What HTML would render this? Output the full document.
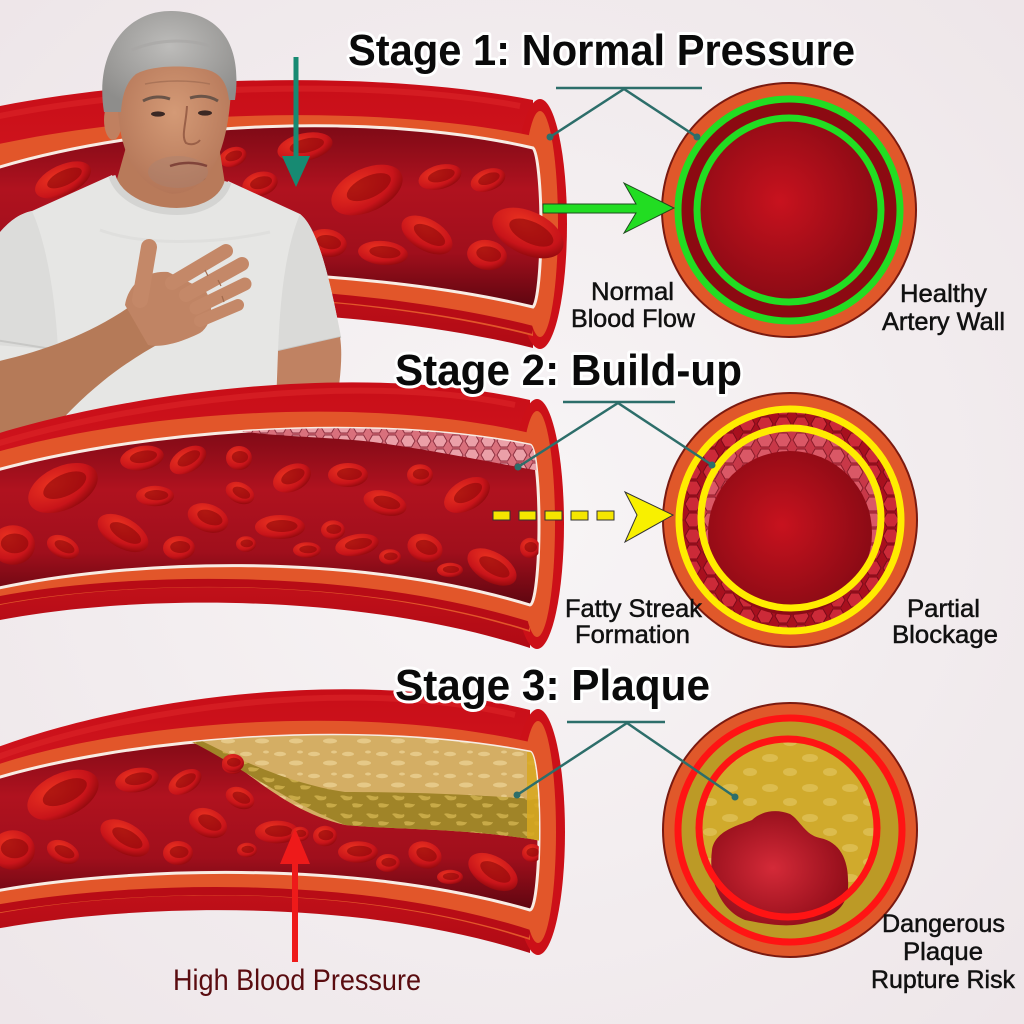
<!DOCTYPE html>
<html>
<head>
<meta charset="utf-8">
<style>
html,body{margin:0;padding:0;background:#f2eced;}
svg{display:block;}
.t{font-family:"Liberation Sans",Arial,sans-serif;font-weight:bold;font-size:44px;fill:#0a0a0a;stroke:#ffffff;stroke-width:6px;paint-order:stroke;stroke-linejoin:round;}
.l{font-family:"Liberation Sans",Arial,sans-serif;font-size:25px;fill:#111;stroke:#111;stroke-width:0.5px;}
</style>
</head>
<body>
<svg width="1024" height="1024" viewBox="0 0 1024 1024" xmlns="http://www.w3.org/2000/svg" xmlns:xlink="http://www.w3.org/1999/xlink">
<defs>
  <radialGradient id="bg" cx="50%" cy="50%" r="75%">
    <stop offset="0" stop-color="#f8f5f6"/>
    <stop offset="1" stop-color="#ede5e8"/>
  </radialGradient>
  <linearGradient id="body" x1="0" y1="0" x2="0" y2="1">
    <stop offset="0" stop-color="#c80e18"/>
    <stop offset="0.5" stop-color="#d41820"/>
    <stop offset="1" stop-color="#b00a14"/>
  </linearGradient>
  <linearGradient id="lum" x1="0" y1="0" x2="0" y2="1">
    <stop offset="0" stop-color="#7e0a16"/>
    <stop offset="0.35" stop-color="#b0121f"/>
    <stop offset="0.7" stop-color="#a00f1c"/>
    <stop offset="1" stop-color="#5e0610"/>
  </linearGradient>
  <radialGradient id="rbcG" cx="38%" cy="32%" r="75%">
    <stop offset="0" stop-color="#ea3220"/>
    <stop offset="0.7" stop-color="#c8141a"/>
    <stop offset="1" stop-color="#8a080c"/>
  </radialGradient>
  <radialGradient id="lumC" cx="45%" cy="45%" r="60%">
    <stop offset="0" stop-color="#c8121e"/>
    <stop offset="1" stop-color="#860a14"/>
  </radialGradient>
  <radialGradient id="lumC3" cx="45%" cy="50%" r="60%">
    <stop offset="0" stop-color="#d42a38"/>
    <stop offset="1" stop-color="#8e0c18"/>
  </radialGradient>
  <radialGradient id="hairG" cx="50%" cy="35%" r="65%">
    <stop offset="0" stop-color="#bdbcba"/>
    <stop offset="1" stop-color="#8e8d8b"/>
  </radialGradient>
  <radialGradient id="faceG" cx="50%" cy="40%" r="60%">
    <stop offset="0" stop-color="#d49a76"/>
    <stop offset="1" stop-color="#b47658"/>
  </radialGradient>
  <g id="rbc">
    <ellipse rx="20" ry="12" fill="url(#rbcG)"/>
    <ellipse cx="1.5" cy="-1" rx="12.5" ry="6" fill="#8a0709" opacity="0.6"/>
  </g>
  <pattern id="cells" width="16" height="14" patternUnits="userSpaceOnUse">
    <rect width="16" height="14" fill="#d9707c"/>
    <path d="M1 7 L4.5 1 L11.5 1 L15 7 L11.5 13 L4.5 13 Z" fill="#eba0a8" stroke="#8e3040" stroke-width="1"/>
  </pattern>
  <pattern id="cellsD" width="18" height="16" patternUnits="userSpaceOnUse">
    <rect width="18" height="16" fill="#a8101e"/>
    <path d="M1 8 L5 1 L13 1 L17 8 L13 15 L5 15 Z" fill="#cc2a38" stroke="#7a0a18" stroke-width="1"/>
  </pattern>
  <pattern id="cellsP" width="18" height="16" patternUnits="userSpaceOnUse">
    <rect width="18" height="16" fill="#c83848"/>
    <path d="M1 8 L5 1 L13 1 L17 8 L13 15 L5 15 Z" fill="#da5866" stroke="#8a1c2a" stroke-width="1"/>
  </pattern>
  <pattern id="spL" width="34" height="22" patternUnits="userSpaceOnUse">
    <rect width="34" height="22" fill="#d4ae64"/>
    <ellipse cx="8" cy="6" rx="6" ry="2.2" fill="#e6c988"/>
    <ellipse cx="24" cy="15" rx="7" ry="2.5" fill="#e6c988"/>
    <ellipse cx="28" cy="4" rx="3" ry="1.5" fill="#e6c988"/>
  </pattern>
  <pattern id="spD" width="26" height="18" patternUnits="userSpaceOnUse">
    <rect width="26" height="18" fill="#a08428"/>
    <path d="M2 4 C6 2 10 6 14 4 C16 8 10 9 6 8 Z" fill="#c8aa48"/>
    <path d="M14 12 C18 10 22 13 25 12 C24 16 18 16 15 15 Z" fill="#c8aa48"/>
  </pattern>
  <pattern id="spG" width="40" height="30" patternUnits="userSpaceOnUse">
    <rect width="40" height="30" fill="#d0aa2c"/>
    <ellipse cx="10" cy="8" rx="8" ry="4" fill="#dcbc4e"/>
    <ellipse cx="30" cy="22" rx="7" ry="4" fill="#dcbc4e"/>
  </pattern>

  <path id="lum1" d="M-10 170 C 150 120 380 112 533 148 A 9 80 0 0 1 533 307 C 380 270 150 262 -10 285 Z"/>
  <path id="lum2" d="M-10 472 C 120 435 350 410 530 445 A 9 80 0 0 1 530 605 C 350 550 120 560 -10 590 Z"/>
  <path id="lum3" d="M-10 780 C 120 740 350 718 530 752 A 9 79 0 0 1 530 910 C 350 858 120 868 -10 892 Z"/>
  <clipPath id="c1"><use xlink:href="#lum1"/></clipPath>
  <clipPath id="c2"><use xlink:href="#lum2"/></clipPath>
  <clipPath id="c3"><use xlink:href="#lum3"/></clipPath>
</defs>

<rect width="1024" height="1024" fill="url(#bg)"/>

<!-- ============ STAGE 1 VESSEL ============ -->
<path d="M-10 108 C 150 75 380 70 533 100 L 533 348 C 380 310 150 300 -10 325 Z" fill="url(#body)"/>
<path d="M-10 118 C 150 84 380 79 520 106" fill="none" stroke="#dc2428" stroke-width="6" opacity="0.6"/>
<ellipse cx="540" cy="224" rx="27" ry="125" fill="#cc1018"/>
<path d="M-10 146 C 150 110 380 104 533 136 L 533 336 C 380 296 150 285 -10 305 Z" fill="#e2562a"/>
<path d="M-10 300 C 150 280 380 291 533 330" fill="none" stroke="#b80c16" stroke-width="8"/>
<ellipse cx="540" cy="224" rx="18" ry="113" fill="#e2562a"/>
<use xlink:href="#lum1" fill="url(#lum)" stroke="#f8ece4" stroke-width="3"/>
<g clip-path="url(#c1)">
  <use xlink:href="#rbc" transform="translate(63 180) rotate(-25) scale(1.5 1.25)"/>
  <use xlink:href="#rbc" transform="translate(233 157) rotate(-20) scale(0.7 0.8)"/>
  <use xlink:href="#rbc" transform="translate(260 184) rotate(-15) scale(0.9 1)"/>
  <use xlink:href="#rbc" transform="translate(305 147) rotate(-12) scale(1.4 1.15)"/>
  <use xlink:href="#rbc" transform="translate(367 190) rotate(-25) scale(1.9 1.8)"/>
  <use xlink:href="#rbc" transform="translate(440 177) rotate(-15) scale(1.1 1)"/>
  <use xlink:href="#rbc" transform="translate(488 180) rotate(-20) scale(0.9 0.9)"/>
  <use xlink:href="#rbc" transform="translate(427 235) rotate(30) scale(1.4 1.3)"/>
  <use xlink:href="#rbc" transform="translate(383 253) rotate(5) scale(1.25 1)"/>
  <use xlink:href="#rbc" transform="translate(487 255) rotate(10) scale(1 1.25)"/>
  <use xlink:href="#rbc" transform="translate(327 243) rotate(10) scale(1 1.15)"/>
</g>
<use xlink:href="#rbc" transform="translate(528 233) rotate(25) scale(1.9 1.8)"/>

<!-- teal arrow -->
<line x1="296" y1="57" x2="296" y2="160" stroke="#178a72" stroke-width="5"/>
<polygon points="282,156 310,156 296,187" fill="#178a72"/>

<!-- ============ MAN ============ -->
<g>
  <path d="M128 140 L 218 140 L 226 190 C 200 225 140 225 114 190 Z" fill="#b87a5a"/>
  <path d="M150 175 C 165 190 185 192 205 178" fill="none" stroke="#a06648" stroke-width="2"/>
  <path d="M112 175 C 125 215 215 225 228 181 L 300 214 C 318 228 330 280 341 337 L 278 351 L 274 430 L -5 440 L -5 238 C 8 222 18 214 32 211 Z" fill="#e6e6e4"/>
  <path d="M32 211 C 45 240 55 290 58 350 L -5 345 L -5 238 C 8 222 18 214 32 211 Z" fill="#dcdcda"/>
  <path d="M300 214 C 318 228 330 280 341 337 L 278 351 C 280 300 285 250 300 214 Z" fill="#dadad8"/>
  <path d="M-5 340 L 58 350" stroke="#c8c8c6" stroke-width="2"/>
  <path d="M278 351 L 341 337" stroke="#c8c8c6" stroke-width="2"/>
  <path d="M112 176 C 125 218 215 226 228 182" fill="none" stroke="#d4d4d2" stroke-width="7"/>
  <path d="M100 230 C 140 245 210 245 270 232" fill="none" stroke="#dadad8" stroke-width="3" opacity="0.6"/>
  <path d="M278 351 L 340 337 C 343 355 340 380 337 400 L 276 405 Z" fill="#c08262"/>
  <ellipse cx="113" cy="120" rx="9" ry="20" fill="#c08060"/>
  <path d="M118 85 C 115 140 130 185 172 194 C 210 193 228 150 231 90 C 231 50 119 48 118 85 Z" fill="url(#faceG)"/>
  <ellipse cx="178" cy="172" rx="30" ry="16" fill="#a88272" opacity="0.4"/>
  <path d="M104 112 C 94 50 128 10 172 11 C 218 12 243 42 235 100 L 229 100 C 227 82 220 72 204 69 C 184 65 152 65 136 74 C 126 82 122 96 121 112 Z" fill="url(#hairG)"/>
  <path d="M132 50 C 155 40 185 38 210 46" fill="none" stroke="#a6a5a3" stroke-width="3" opacity="0.6"/>
  <path d="M143 101 C 152 96 162 96 170 99" stroke="#6a5448" stroke-width="3" fill="none"/>
  <path d="M190 98 C 200 95 210 96 218 101" stroke="#6a5448" stroke-width="3" fill="none"/>
  <ellipse cx="158" cy="114" rx="7" ry="2.6" fill="#3a2824"/>
  <ellipse cx="205" cy="113" rx="7" ry="2.6" fill="#3a2824"/>
  <path d="M187 106 C 186 125 181 136 186 143 C 192 146 198 143 200 140" stroke="#9a6048" stroke-width="2" fill="none"/>
  <path d="M170 166 C 182 162 195 162 207 166" stroke="#80443a" stroke-width="2.5" fill="none"/>
  <path d="M145 84 C 165 80 190 80 210 84" stroke="#aa7458" stroke-width="1.5" fill="none"/>
  <path d="M-5 362 C 40 352 90 335 132 305 L 162 342 C 120 365 80 395 40 445 L -5 445 Z" fill="#b57a58"/>
  <path d="M125 305 C 128 285 145 270 168 272 L 205 290 C 215 305 212 325 200 333 C 180 343 160 348 148 345 Z" fill="#c08464"/>
  <g stroke="#c48868" stroke-linecap="round" fill="none">
    <line x1="140" y1="300" x2="149" y2="247" stroke-width="16"/>
    <line x1="172" y1="283" x2="226" y2="251" stroke-width="14"/>
    <line x1="186" y1="295" x2="242" y2="264" stroke-width="14"/>
    <line x1="196" y1="308" x2="245" y2="284" stroke-width="13"/>
    <line x1="200" y1="321" x2="238" y2="305" stroke-width="12"/>
  </g>
  <g stroke="#a06a4c" stroke-width="1.2" fill="none">
    <path d="M205 270 L 208 276"/><path d="M218 280 L 221 286"/><path d="M222 296 L 224 302"/>
  </g>
</g>

<!-- ============ STAGE 2 VESSEL ============ -->
<path d="M-10 436 C 120 395 350 360 530 400 L 530 648 C 350 590 120 595 -10 622 Z" fill="url(#body)"/>
<path d="M-10 446 C 120 405 350 370 515 405" fill="none" stroke="#dc2428" stroke-width="6" opacity="0.6"/>
<ellipse cx="537" cy="524" rx="27" ry="125" fill="#cc1018"/>
<path d="M-10 454 C 120 416 350 392 530 433 L 530 632 C 350 574 120 580 -10 607 Z" fill="#e2562a"/>
<path d="M-10 602 C 120 576 350 570 530 626" fill="none" stroke="#b80c16" stroke-width="8"/>
<ellipse cx="537" cy="524" rx="18" ry="113" fill="#e2562a"/>
<use xlink:href="#lum2" fill="url(#lum)" stroke="#f8ece4" stroke-width="3"/>
<g clip-path="url(#c2)">
  <path d="M205 425 C 260 438 330 436 380 443 C 430 450 480 460 545 472 L 545 415 L 205 415 Z" fill="url(#cells)"/>
  <use xlink:href="#rbc" transform="translate(63 488) rotate(-25) scale(1.85 1.8)"/>
  <use xlink:href="#rbc" transform="translate(142 458) rotate(-10) scale(1.1 1)"/>
  <use xlink:href="#rbc" transform="translate(188 460) rotate(-30) scale(1 1)"/>
  <use xlink:href="#rbc" transform="translate(239 458) rotate(0) scale(0.65 1)"/>
  <use xlink:href="#rbc" transform="translate(155 496) rotate(0) scale(0.95 0.85)"/>
  <use xlink:href="#rbc" transform="translate(240 493) rotate(25) scale(0.75 0.85)"/>
  <use xlink:href="#rbc" transform="translate(292 478) rotate(-25) scale(1 1.1)"/>
  <use xlink:href="#rbc" transform="translate(123 533) rotate(30) scale(1.4 1.25)"/>
  <use xlink:href="#rbc" transform="translate(208 518) rotate(20) scale(1.05 1.15)"/>
  <use xlink:href="#rbc" transform="translate(280 527) rotate(0) scale(1.25 1)"/>
  <use xlink:href="#rbc" transform="translate(63 547) rotate(25) scale(0.85 0.9)"/>
  <use xlink:href="#rbc" transform="translate(179 548) rotate(0) scale(0.8 1)"/>
  <use xlink:href="#rbc" transform="translate(246 544) rotate(0) scale(0.5 0.65)"/>
  <use xlink:href="#rbc" transform="translate(307 550) rotate(0) scale(0.7 0.65)"/>
  <use xlink:href="#rbc" transform="translate(13 545) rotate(0) scale(1.1 1.65)"/>
  <use xlink:href="#rbc" transform="translate(348 475) rotate(0) scale(1 1)"/>
  <use xlink:href="#rbc" transform="translate(420 475) rotate(0) scale(0.65 0.9)"/>
  <use xlink:href="#rbc" transform="translate(385 503) rotate(15) scale(1.1 1)"/>
  <use xlink:href="#rbc" transform="translate(467 495) rotate(-30) scale(1.25 1.25)"/>
  <use xlink:href="#rbc" transform="translate(357 545) rotate(-10) scale(1.1 0.9)"/>
  <use xlink:href="#rbc" transform="translate(390 557) rotate(0) scale(0.55 0.65)"/>
  <use xlink:href="#rbc" transform="translate(425 548) rotate(20) scale(0.9 1.15)"/>
  <use xlink:href="#rbc" transform="translate(450 570) rotate(0) scale(0.65 0.6)"/>
  <use xlink:href="#rbc" transform="translate(492 567) rotate(30) scale(1.35 1.25)"/>
  <use xlink:href="#rbc" transform="translate(530 548) rotate(0) scale(0.5 0.85)"/>
  <use xlink:href="#rbc" transform="translate(333 530) rotate(0) scale(0.6 0.8)"/>
</g>

<!-- ============ STAGE 3 VESSEL ============ -->
<path d="M-10 750 C 120 700 350 665 530 710 L 530 953 C 350 895 120 905 -10 930 Z" fill="url(#body)"/>
<path d="M-10 760 C 120 710 350 675 515 715" fill="none" stroke="#dc2428" stroke-width="6" opacity="0.6"/>
<ellipse cx="538" cy="832" rx="27" ry="123" fill="#cc1018"/>
<path d="M-10 767 C 120 723 350 702 530 742 L 530 940 C 350 880 120 890 -10 915 Z" fill="#e2562a"/>
<path d="M-10 910 C 120 886 350 876 530 934" fill="none" stroke="#b80c16" stroke-width="8"/>
<ellipse cx="538" cy="832" rx="18" ry="111" fill="#e2562a"/>
<use xlink:href="#lum3" fill="url(#lum)" stroke="#f8ece4" stroke-width="3"/>
<g clip-path="url(#c3)">
  <use xlink:href="#rbc" transform="translate(63 795) rotate(-25) scale(1.9 1.8)"/>
  <use xlink:href="#rbc" transform="translate(137 780) rotate(-10) scale(1.1 1)"/>
  <use xlink:href="#rbc" transform="translate(185 782) rotate(-30) scale(0.9 0.9)"/>
  <use xlink:href="#rbc" transform="translate(233 765) rotate(0) scale(0.55 0.75)"/>
  <use xlink:href="#rbc" transform="translate(240 798) rotate(25) scale(0.75 0.85)"/>
  <use xlink:href="#rbc" transform="translate(125 838) rotate(30) scale(1.35 1.25)"/>
  <use xlink:href="#rbc" transform="translate(208 823) rotate(25) scale(1 1.15)"/>
  <use xlink:href="#rbc" transform="translate(277 832) rotate(0) scale(1.1 0.95)"/>
  <use xlink:href="#rbc" transform="translate(63 852) rotate(25) scale(0.85 0.9)"/>
  <use xlink:href="#rbc" transform="translate(178 853) rotate(0) scale(0.75 1)"/>
  <use xlink:href="#rbc" transform="translate(247 850) rotate(0) scale(0.5 0.6)"/>
  <use xlink:href="#rbc" transform="translate(13 850) rotate(0) scale(1.1 1.65)"/>
  <use xlink:href="#rbc" transform="translate(300 834) rotate(0) scale(0.45 0.6)"/>
  <use xlink:href="#rbc" transform="translate(325 836) rotate(0) scale(0.6 0.85)"/>
  <use xlink:href="#rbc" transform="translate(358 852) rotate(0) scale(1 0.9)"/>
  <use xlink:href="#rbc" transform="translate(388 863) rotate(0) scale(0.6 0.75)"/>
  <use xlink:href="#rbc" transform="translate(425 855) rotate(20) scale(0.85 1.1)"/>
  <use xlink:href="#rbc" transform="translate(450 877) rotate(0) scale(0.65 0.6)"/>
  <use xlink:href="#rbc" transform="translate(493 872) rotate(30) scale(1.35 1.3)"/>
  <use xlink:href="#rbc" transform="translate(532 853) rotate(0) scale(0.5 0.75)"/>
  <path d="M175 730 C 200 745 222 757 242 770 C 272 792 302 815 345 825 C 400 830 470 828 548 842 L 548 730 Z" fill="url(#spL)"/>
  <path d="M178 736 C 220 752 272 795 345 825 C 400 830 470 828 548 842 L 548 800 C 470 794 400 792 345 792 C 290 784 240 760 200 740 Z" fill="url(#spD)"/>
  <path d="M527 752 L 545 752 L 545 842 L 527 838 Z" fill="#d8a820" opacity="0.85"/>
</g>
<use xlink:href="#rbc" transform="translate(233 763) rotate(0) scale(0.55 0.75)"/>

<!-- red arrow -->
<line x1="295" y1="962" x2="295" y2="858" stroke="#ee1a1a" stroke-width="6"/>
<polygon points="280,864 310,864 295,828" fill="#ee1a1a"/>
<text x="173" y="990" textLength="248" lengthAdjust="spacingAndGlyphs" style="font-family:'Liberation Sans',Arial,sans-serif;font-size:30px;fill:#5a0c10;">High Blood Pressure</text>

<!-- ============ CIRCLE 1 ============ -->
<circle cx="789" cy="210" r="127" fill="#e0582a" stroke="#7a1a10" stroke-width="2"/>
<circle cx="789" cy="210" r="108" fill="#8c0a12"/>
<circle cx="789" cy="210" r="90" fill="url(#lumC)"/>
<circle cx="789" cy="210" r="111" fill="none" stroke="#22dd22" stroke-width="7"/>
<circle cx="789" cy="210" r="92" fill="none" stroke="#22dd22" stroke-width="7"/>
<path d="M543 204 L636 204 L624 183 L674 208 L624 233 L636 213 L543 213 Z" fill="#22dd22" stroke="#1e4a1e" stroke-width="1"/>

<!-- ============ CIRCLE 2 ============ -->
<circle cx="790" cy="520" r="127" fill="#e0582a" stroke="#7a1a10" stroke-width="2"/>
<circle cx="790" cy="520" r="108" fill="url(#cellsD)"/>
<circle cx="791" cy="518" r="90" fill="url(#cellsP)"/>
<circle cx="790" cy="533" r="82" fill="url(#lumC)"/>
<circle cx="790" cy="520" r="111" fill="none" stroke="#ffec00" stroke-width="7"/>
<circle cx="791" cy="518" r="90" fill="none" stroke="#ffec00" stroke-width="7"/>
<g fill="#f5e600" stroke="#333" stroke-width="1">
  <rect x="493" y="511" width="17" height="9"/>
  <rect x="519" y="511" width="17" height="9"/>
  <rect x="545" y="511" width="17" height="9"/>
  <rect x="571" y="511" width="17" height="9"/>
  <rect x="597" y="511" width="17" height="9"/>
  <path d="M625 492 L673 515 L625 542 L637 515 Z" fill="#f8f000"/>
</g>

<!-- ============ CIRCLE 3 ============ -->
<circle cx="790" cy="830" r="127" fill="#e0582a" stroke="#7a1a10" stroke-width="2"/>
<circle cx="790" cy="830" r="110" fill="#bc9a26"/>
<circle cx="788" cy="828" r="92" fill="url(#spG)"/>
<path d="M712 850 C 715 830 740 825 752 820 C 760 812 775 808 790 814 C 800 820 805 835 820 838 C 840 842 848 860 848 880 C 850 905 835 918 810 922 C 790 928 770 925 745 920 C 720 910 708 880 712 850 Z" fill="url(#lumC3)"/>
<circle cx="790" cy="830" r="112" fill="none" stroke="#ff1414" stroke-width="7"/>
<circle cx="788" cy="828" r="89" fill="none" stroke="#ff1414" stroke-width="7"/>

<!-- ============ BRACKETS ============ -->
<g stroke="#2d6e6a" stroke-width="2.5" fill="none">
  <path d="M556 88 L702 88"/>
  <path d="M550 137 L624 89 L697 137"/>
  <path d="M563 402 L675 402"/>
  <path d="M518 467 L618 403 L712 465"/>
  <path d="M567 722 L665 722"/>
  <path d="M517 795 L627 723 L735 797"/>
</g>
<g fill="#2d6e6a">
  <circle cx="550" cy="137" r="3.5"/><circle cx="697" cy="137" r="3.5"/>
  <circle cx="518" cy="467" r="3.5"/><circle cx="712" cy="465" r="3.5"/>
  <circle cx="517" cy="795" r="3.5"/><circle cx="735" cy="797" r="3.5"/>
</g>

<!-- ============ TITLES ============ -->
<text class="t" x="348" y="65" textLength="507" lengthAdjust="spacingAndGlyphs">Stage 1: Normal Pressure</text>
<text class="t" x="395" y="385" textLength="347" lengthAdjust="spacingAndGlyphs">Stage 2: Build-up</text>
<text class="t" x="395" y="700" textLength="315" lengthAdjust="spacingAndGlyphs">Stage 3: Plaque</text>

<!-- ============ LABELS ============ -->
<text class="l" x="591" y="300" textLength="83" lengthAdjust="spacingAndGlyphs">Normal</text>
<text class="l" x="571" y="327" textLength="124" lengthAdjust="spacingAndGlyphs">Blood Flow</text>
<text class="l" x="900" y="302" textLength="87" lengthAdjust="spacingAndGlyphs">Healthy</text>
<text class="l" x="882" y="330" textLength="123" lengthAdjust="spacingAndGlyphs">Artery Wall</text>
<text class="l" x="565" y="617" textLength="137" lengthAdjust="spacingAndGlyphs">Fatty Streak</text>
<text class="l" x="575" y="643" textLength="115" lengthAdjust="spacingAndGlyphs">Formation</text>
<text class="l" x="907" y="617" textLength="73" lengthAdjust="spacingAndGlyphs">Partial</text>
<text class="l" x="892" y="643" textLength="106" lengthAdjust="spacingAndGlyphs">Blockage</text>
<text class="l" x="882" y="932" textLength="123" lengthAdjust="spacingAndGlyphs">Dangerous</text>
<text class="l" x="903" y="960" textLength="80" lengthAdjust="spacingAndGlyphs">Plaque</text>
<text class="l" x="871" y="988" textLength="144" lengthAdjust="spacingAndGlyphs">Rupture Risk</text>
</svg>
</body>
</html>
